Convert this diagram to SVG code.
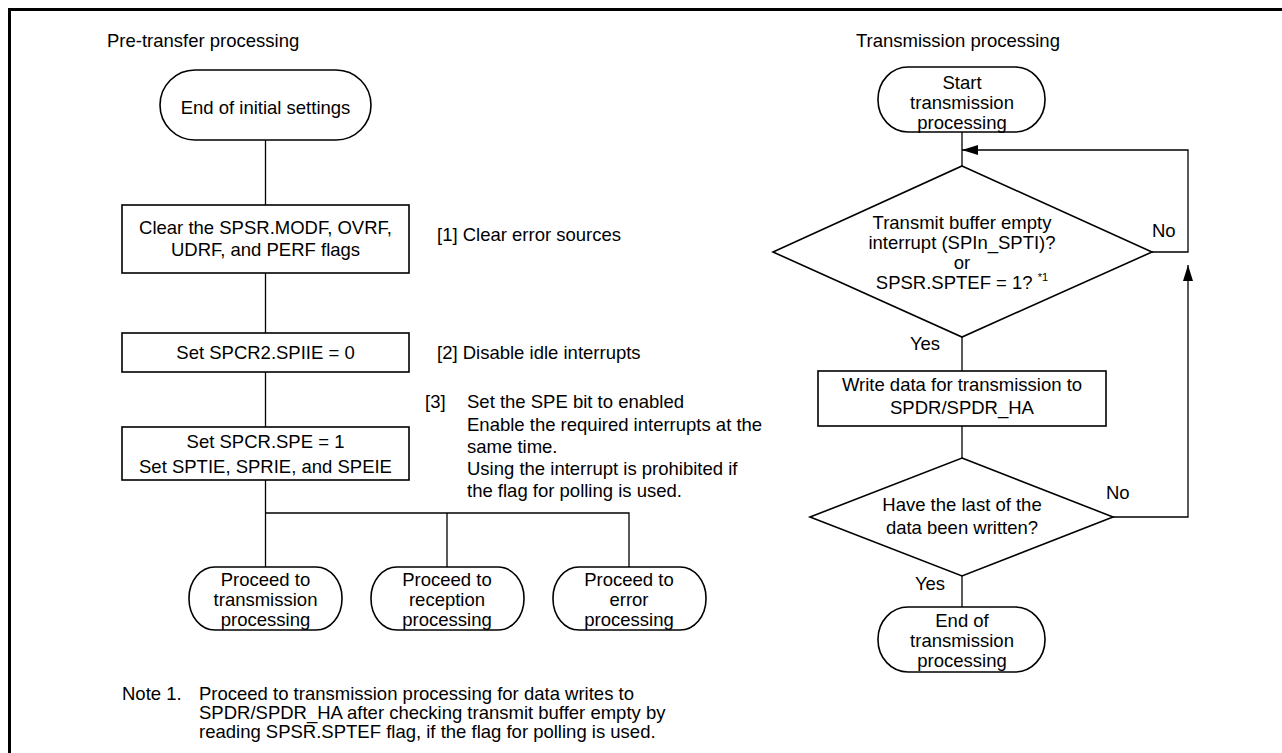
<svg xmlns="http://www.w3.org/2000/svg" width="1282" height="753" viewBox="0 0 1282 753">
<style>
text{font-family:"Liberation Sans",Arial,sans-serif;font-size:18.5px;fill:#000}
.c{text-anchor:middle}
.s{fill:#fff;stroke:#000;stroke-width:1.6}
.l{fill:none;stroke:#000;stroke-width:1.3}
.sup{font-size:11px}
</style>
<defs>
<marker id="ah" viewBox="0 0 16 10" refX="16" refY="5" markerWidth="16" markerHeight="10" markerUnits="userSpaceOnUse" orient="auto">
<path d="M0,0 L16,5 L0,10 Z" fill="#000"/>
</marker>
</defs>
<rect x="0" y="0" width="1282" height="753" fill="#fff"/>
<path d="M9.5,753 V9.5 H1282" fill="none" stroke="#000" stroke-width="3"/>
<text x="107" y="47">Pre-transfer processing</text>
<text x="856" y="47">Transmission processing</text>
<g id="connectors">
<path class="l" d="M265.5,140 V205"/>
<path class="l" d="M265.5,273 V333"/>
<path class="l" d="M265.5,372 V427"/>
<path class="l" d="M265.5,480 V567"/>
<path class="l" d="M265.5,513 H629 V567"/>
<path class="l" d="M447,513 V567"/>
<path class="l" d="M962,132 V166"/>
<path class="l" d="M962,337 V371"/>
<path class="l" d="M962,426 V458"/>
<path class="l" d="M962,576 V607"/>
<path class="l" d="M1152,252 H1188 V150 H962" marker-end="url(#ah)"/>
<path class="l" d="M1113,517 H1188 V265" marker-end="url(#ah)"/>
<text x="1152" y="237">No</text>
<text x="1106" y="499">No</text>
<text x="925" y="350" class="c">Yes</text>
<text x="930" y="590" class="c">Yes</text>
</g>
<g id="n_end_init">
<rect class="s" x="160" y="70" width="211" height="70" rx="35" ry="35"/>
<text x="265.5" y="114" class="c">End of initial settings</text>
</g>
<g id="n_clear">
<rect class="s" x="122" y="205" width="287" height="68"/>
<text x="265.5" y="234" class="c">Clear the SPSR.MODF, OVRF,</text>
<text x="265.5" y="256" class="c">UDRF, and PERF flags</text>
</g>
<text x="437" y="241">[1] Clear error sources</text>
<g id="n_spiie">
<rect class="s" x="122" y="333" width="287" height="39"/>
<text x="265.5" y="359" class="c">Set SPCR2.SPIIE = 0</text>
</g>
<text x="437" y="359">[2] Disable idle interrupts</text>
<g id="n_spe">
<rect class="s" x="122" y="427" width="287" height="53"/>
<text x="265.5" y="448" class="c">Set SPCR.SPE = 1</text>
<text x="265.5" y="473" class="c">Set SPTIE, SPRIE, and SPEIE</text>
</g>
<g id="note3">
<text x="425" y="408">[3]</text>
<text x="467" y="408">Set the SPE bit to enabled</text>
<text x="467" y="431">Enable the required interrupts at the</text>
<text x="467" y="453">same time.</text>
<text x="467" y="475">Using the interrupt is prohibited if</text>
<text x="467" y="497">the flag for polling is used.</text>
</g>
<g id="n_tx">
<rect class="s" x="189" y="567" width="153" height="63" rx="26" ry="31"/>
<text x="265.5" y="586" class="c">Proceed to</text>
<text x="265.5" y="606" class="c">transmission</text>
<text x="265.5" y="626" class="c">processing</text>
</g>
<g id="n_rx">
<rect class="s" x="371" y="567" width="153" height="63" rx="26" ry="31"/>
<text x="447" y="586" class="c">Proceed to</text>
<text x="447" y="606" class="c">reception</text>
<text x="447" y="626" class="c">processing</text>
</g>
<g id="n_err">
<rect class="s" x="553" y="567" width="153" height="63" rx="26" ry="31"/>
<text x="629" y="586" class="c">Proceed to</text>
<text x="629" y="606" class="c">error</text>
<text x="629" y="626" class="c">processing</text>
</g>
<g id="note1">
<text x="122" y="700">Note 1.</text>
<text x="199" y="700">Proceed to transmission processing for data writes to</text>
<text x="199" y="719">SPDR/SPDR_HA after checking transmit buffer empty by</text>
<text x="199" y="738">reading SPSR.SPTEF flag, if the flag for polling is used.</text>
</g>
<g id="n_start">
<rect class="s" x="878" y="67" width="167" height="65" rx="30" ry="32"/>
<text x="962" y="89" class="c">Start</text>
<text x="962" y="109" class="c">transmission</text>
<text x="962" y="129" class="c">processing</text>
</g>
<g id="n_dec1">
<polygon class="s" points="962,166 1152,252 962,337 773,252"/>
<text x="962" y="229" class="c">Transmit buffer empty</text>
<text x="962" y="249" class="c">interrupt (SPIn_SPTI)?</text>
<text x="962" y="269" class="c">or</text>
<text x="962" y="289" class="c">SPSR.SPTEF = 1? <tspan class="sup" dy="-8">*1</tspan></text>
</g>
<g id="n_write">
<rect class="s" x="818" y="371" width="288" height="55"/>
<text x="962" y="391" class="c">Write data for transmission to</text>
<text x="962" y="414" class="c">SPDR/SPDR_HA</text>
</g>
<g id="n_dec2">
<polygon class="s" points="962,458 1113,517 962,576 810,517"/>
<text x="962" y="511" class="c">Have the last of the</text>
<text x="962" y="534" class="c">data been written?</text>
</g>
<g id="n_end_tx">
<rect class="s" x="878" y="607" width="167" height="65" rx="30" ry="32"/>
<text x="962" y="627" class="c">End of</text>
<text x="962" y="647" class="c">transmission</text>
<text x="962" y="667" class="c">processing</text>
</g>
</svg>
